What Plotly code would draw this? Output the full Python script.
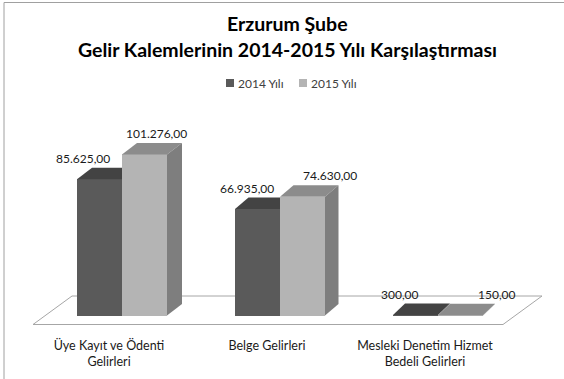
import plotly.graph_objects as go

# ---- data ----
categories = ["Üye Kayıt ve Ödenti<br>Gelirleri", "Belge Gelirleri", "Mesleki Denetim Hizmet<br>Bedeli Gelirleri"]
series_names = ["2014 Yılı", "2015 Yılı"]
values_2014 = [85625.00, 66935.00, 300.00]
values_2015 = [101276.00, 74630.00, 150.00]

# ---- page / plot geometry (pixels) ----
W, H = 564, 379
ML, MR, MT, MB = 20, 4, 100, 43
X0_PX, XSTEP_PX = 122.0, 158.0      # pixel x of category 0, pixels per category
Y0_PX, PX_PER_UNIT = 315.5, 0.00159  # pixel y of value 0, pixels per value unit

def ux(px):
    return (px - X0_PX) / XSTEP_PX

def uy(py):
    return (Y0_PX - py) / PX_PER_UNIT

def paper_x(px):
    return (px - ML) / (W - ML - MR)

def paper_y(py):
    return ((H - MB) - py) / (H - MT - MB)

BAR_W = 45.0 / XSTEP_PX
DEPTH_DY = 11.5 / PX_PER_UNIT
def depth_dx(i):
    # perspective: side depth shrinks slightly toward the right
    return (15.0 - 1.5 * i) / XSTEP_PX

colors = {
    "2014 Yılı": dict(front="#5a5a5a", top="#434343", side="#4f4f4f"),
    "2015 Yılı": dict(front="#b4b4b4", top="#8c8c8c", side="#7e7e7e"),
}

FONT = "Lato, sans-serif"

def tr_number(v):
    s = f"{v:,.2f}"
    return s.replace(",", "X").replace(".", ",").replace("X", ".")

fig = go.Figure()

series = [values_2014, values_2015]
x_idx = list(range(len(categories)))

# front faces as bars
for s, (name, vals) in enumerate(zip(series_names, series)):
    offs = -BAR_W / 2 if s == 0 else BAR_W / 2
    fig.add_trace(go.Bar(
        x=[i + offs for i in x_idx], y=vals, width=BAR_W, name=name,
        marker=dict(color=colors[name]["front"], line=dict(width=0)),
        showlegend=False, hoverinfo="skip",
    ))

# top and side faces
for s, (name, vals) in enumerate(zip(series_names, series)):
    for i, v in enumerate(vals):
        x0 = i - BAR_W if s == 0 else i
        x1 = x0 + BAR_W
        dx = depth_dx(i)
        dy = DEPTH_DY
        if s == 0 and series[1][i] >= v:
            # right neighbour is taller: hide the part of the top behind it
            tx = [x0, x1, x1, x0 + dx, x0]
        else:
            tx = [x0, x1, x1 + dx, x0 + dx, x0]
        ty = [v, v, v + dy, v + dy, v]
        fig.add_trace(go.Scatter(
            x=tx, y=ty, mode="lines", fill="toself",
            fillcolor=colors[name]["top"], line=dict(width=0),
            showlegend=False, hoverinfo="skip",
        ))
        if s == 1:
            sx = [x1, x1, x1 + dx, x1 + dx, x1]
            sy = [0, v, v + dy, dy, 0]
            fig.add_trace(go.Scatter(
                x=sx, y=sy, mode="lines", fill="toself",
                fillcolor=colors[name]["side"], line=dict(width=0),
                showlegend=False, hoverinfo="skip",
            ))

# value labels
label_dx = {"2014 Yılı": [-17, -11, -16], "2015 Yılı": [12, 27, 36]}
for s, (name, vals) in enumerate(zip(series_names, series)):
    for i, v in enumerate(vals):
        xc = i - BAR_W / 2 if s == 0 else i + BAR_W / 2
        fig.add_annotation(
            x=xc, y=v, text=tr_number(v), showarrow=False,
            xshift=label_dx[name][i], yshift=21, yanchor="middle",
            font=dict(family=FONT, size=12, color="#1a1a1a"),
        )

# floor outline
fl = [(33, 324.5), (503, 324.5), (542, 296), (72, 296)]
path = "M " + " L ".join(f"{ux(px)},{uy(py)}" for px, py in fl) + " Z"
fig.add_shape(type="path", path=path, xref="x", yref="y", layer="below",
              line=dict(color="#a6a6a6", width=1), fillcolor="white")

# chart border (top and left edges fall inside the page)
fig.add_shape(type="rect", xref="paper", yref="paper",
              x0=paper_x(4), x1=paper_x(W + 10), y0=paper_y(H + 10), y1=paper_y(2.5),
              line=dict(color="#a0a0a0", width=1), fillcolor="rgba(0,0,0,0)", layer="below")

# legend: swatch + label per series
legend_pos = {"2014 Yılı": 226, "2015 Yılı": 299}
for name in series_names:
    lx = legend_pos[name]
    fig.add_shape(type="rect", xref="paper", yref="paper",
                  x0=paper_x(lx), x1=paper_x(lx + 8), y0=paper_y(87), y1=paper_y(79),
                  line=dict(width=0), fillcolor=colors[name]["front"])
    fig.add_annotation(xref="paper", yref="paper", x=paper_x(lx + 10), y=paper_y(83),
                       text=name, showarrow=False, xanchor="left", yanchor="middle",
                       font=dict(family=FONT, size=12, color="#404040"))

# title
fig.add_annotation(xref="paper", yref="paper", x=paper_x(287), y=paper_y(23),
                   text="<b>Erzurum Şube</b>", showarrow=False, yanchor="middle",
                   font=dict(family=FONT, size=19.5, color="#000000"))
fig.add_annotation(xref="paper", yref="paper", x=paper_x(287), y=paper_y(50),
                   text="<b>Gelir Kalemlerinin 2014-2015 Yılı Karşılaştırması</b>",
                   showarrow=False, yanchor="middle",
                   font=dict(family=FONT, size=19.5, color="#000000"))

fig.update_layout(
    width=W, height=H,
    margin=dict(l=ML, r=MR, t=MT, b=MB, pad=0),
    paper_bgcolor="white", plot_bgcolor="white",
    barmode="overlay", bargap=0,
    showlegend=False,
    xaxis=dict(range=[ux(ML), ux(W - MR)], tickvals=x_idx, ticktext=categories,
               showgrid=False, zeroline=False, showline=False, ticks="",
               ticklabelshift=-13, ticklabelstandoff=0,
               tickfont=dict(family=FONT, size=12.5, color="#1a1a1a")),
    yaxis=dict(range=[uy(H - MB), uy(MT)], showgrid=False, zeroline=False,
               showline=False, showticklabels=False, ticks=""),
)

fig.write_html("out.html")
